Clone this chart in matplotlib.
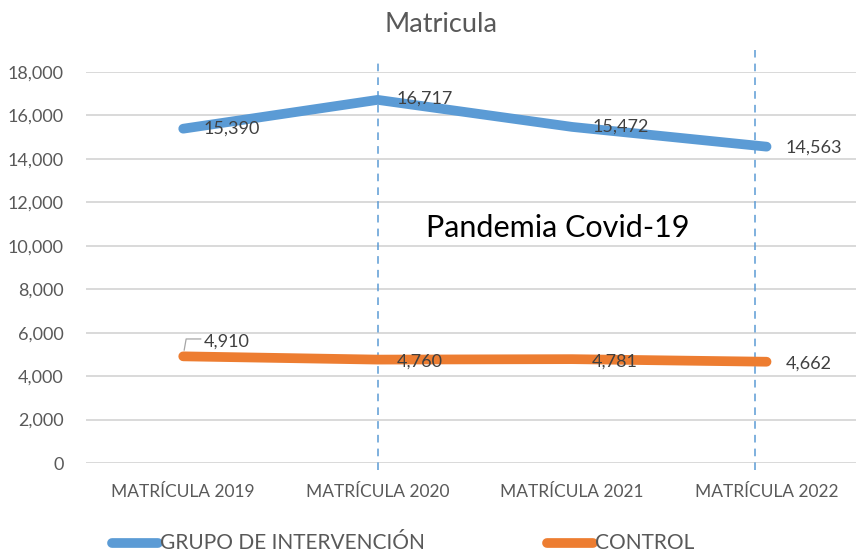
import numpy as np
import matplotlib.pyplot as plt
from matplotlib.lines import Line2D

# datos
categorias = ["MATRÍCULA 2019", "MATRÍCULA 2020", "MATRÍCULA 2021", "MATRÍCULA 2022"]
intervencion = [15390, 16717, 15472, 14563]
control = [4910, 4760, 4781, 4662]
yticks = [0, 2000, 4000, 6000, 8000, 10000, 12000, 14000, 16000, 18000]

plt.rcParams['font.family'] = ['Lato', 'DejaVu Sans']

W, H = 856, 552
fig = plt.figure(figsize=(W/100, H/100), dpi=100)
ax = fig.add_axes([86/W, 1 - 463/H, 1 - 86/W, (463 - 72)/H])

x = np.arange(len(categorias))
azul = '#5B9BD5'
naranja = '#ED7D31'
gris = '#595959'
gris_osc = '#404040'

ax.plot(x, intervencion, color=azul, lw=7, solid_capstyle='round', zorder=3)
ax.plot(x, control, color=naranja, lw=7, solid_capstyle='round', zorder=3)

# etiquetas de datos (desplazamientos en pixeles)
off_int = [(20, 0), (19, 1), (20, 0), (19, -1)]
off_ctl = [(21, 15), (19, -2), (20, -2), (19, -2)]
for i in range(len(x)):
    ax.annotate(f"{intervencion[i]:,}", (x[i], intervencion[i]), xytext=off_int[i],
                textcoords='offset pixels', fontsize=13, color=gris_osc, va='center', zorder=4)
    ax.annotate(f"{control[i]:,}", (x[i], control[i]), xytext=off_ctl[i],
                textcoords='offset pixels', fontsize=13, color=gris_osc, va='center', zorder=4)
# linea guia de 4,910
ax.plot([0.005, 0.015, 0.09], [5200, 5710, 5710], color='#a6a6a6', lw=0.9, zorder=2)

# lineas verticales de la pandemia
for xv, ytop in [(1.0, 18650), (2.938, 19000)]:
    ax.plot([xv, xv], [-320, ytop], color=azul, lw=1.1,
            ls=(0, (5, 4)), clip_on=False, zorder=2)

ax.text(1.927, 10830, "Pandemia Covid-19", fontsize=22, color='black', ha='center', va='center')

ax.set_xlim(-0.5, 3.46)
ax.set_ylim(0, 18000)
ax.set_yticks(yticks)
ax.set_yticklabels([f"{v:,}" for v in yticks], color=gris, fontsize=13)
ax.set_xticks(x)
ax.set_xticklabels(categorias, color=gris, fontsize=12.5)
ax.tick_params(length=0)
ax.tick_params(axis='y', pad=16)
ax.tick_params(axis='x', pad=15)
ax.grid(axis='y', color='#d9d9d9', lw=1.4, zorder=0)
for s in ax.spines.values():
    s.set_visible(False)

fig.text(441/W, 1 - 25/H, "Matricula", fontsize=19.5, color=gris, ha='center', va='center')

# leyenda dibujada a mano
for x0, x1, col, txt in [(112, 158, azul, "GRUPO DE INTERVENCIÓN"), (547, 593, naranja, "CONTROL")]:
    fig.add_artist(Line2D([x0/W, x1/W], [1 - 543/H, 1 - 543/H], color=col, lw=7,
                          solid_capstyle='round', transform=fig.transFigure))
    fig.text((x1 + 2)/W, 1 - 543/H, txt, fontsize=15, color=gris, ha='left', va='center')

plt.savefig("out.png", dpi=100)
